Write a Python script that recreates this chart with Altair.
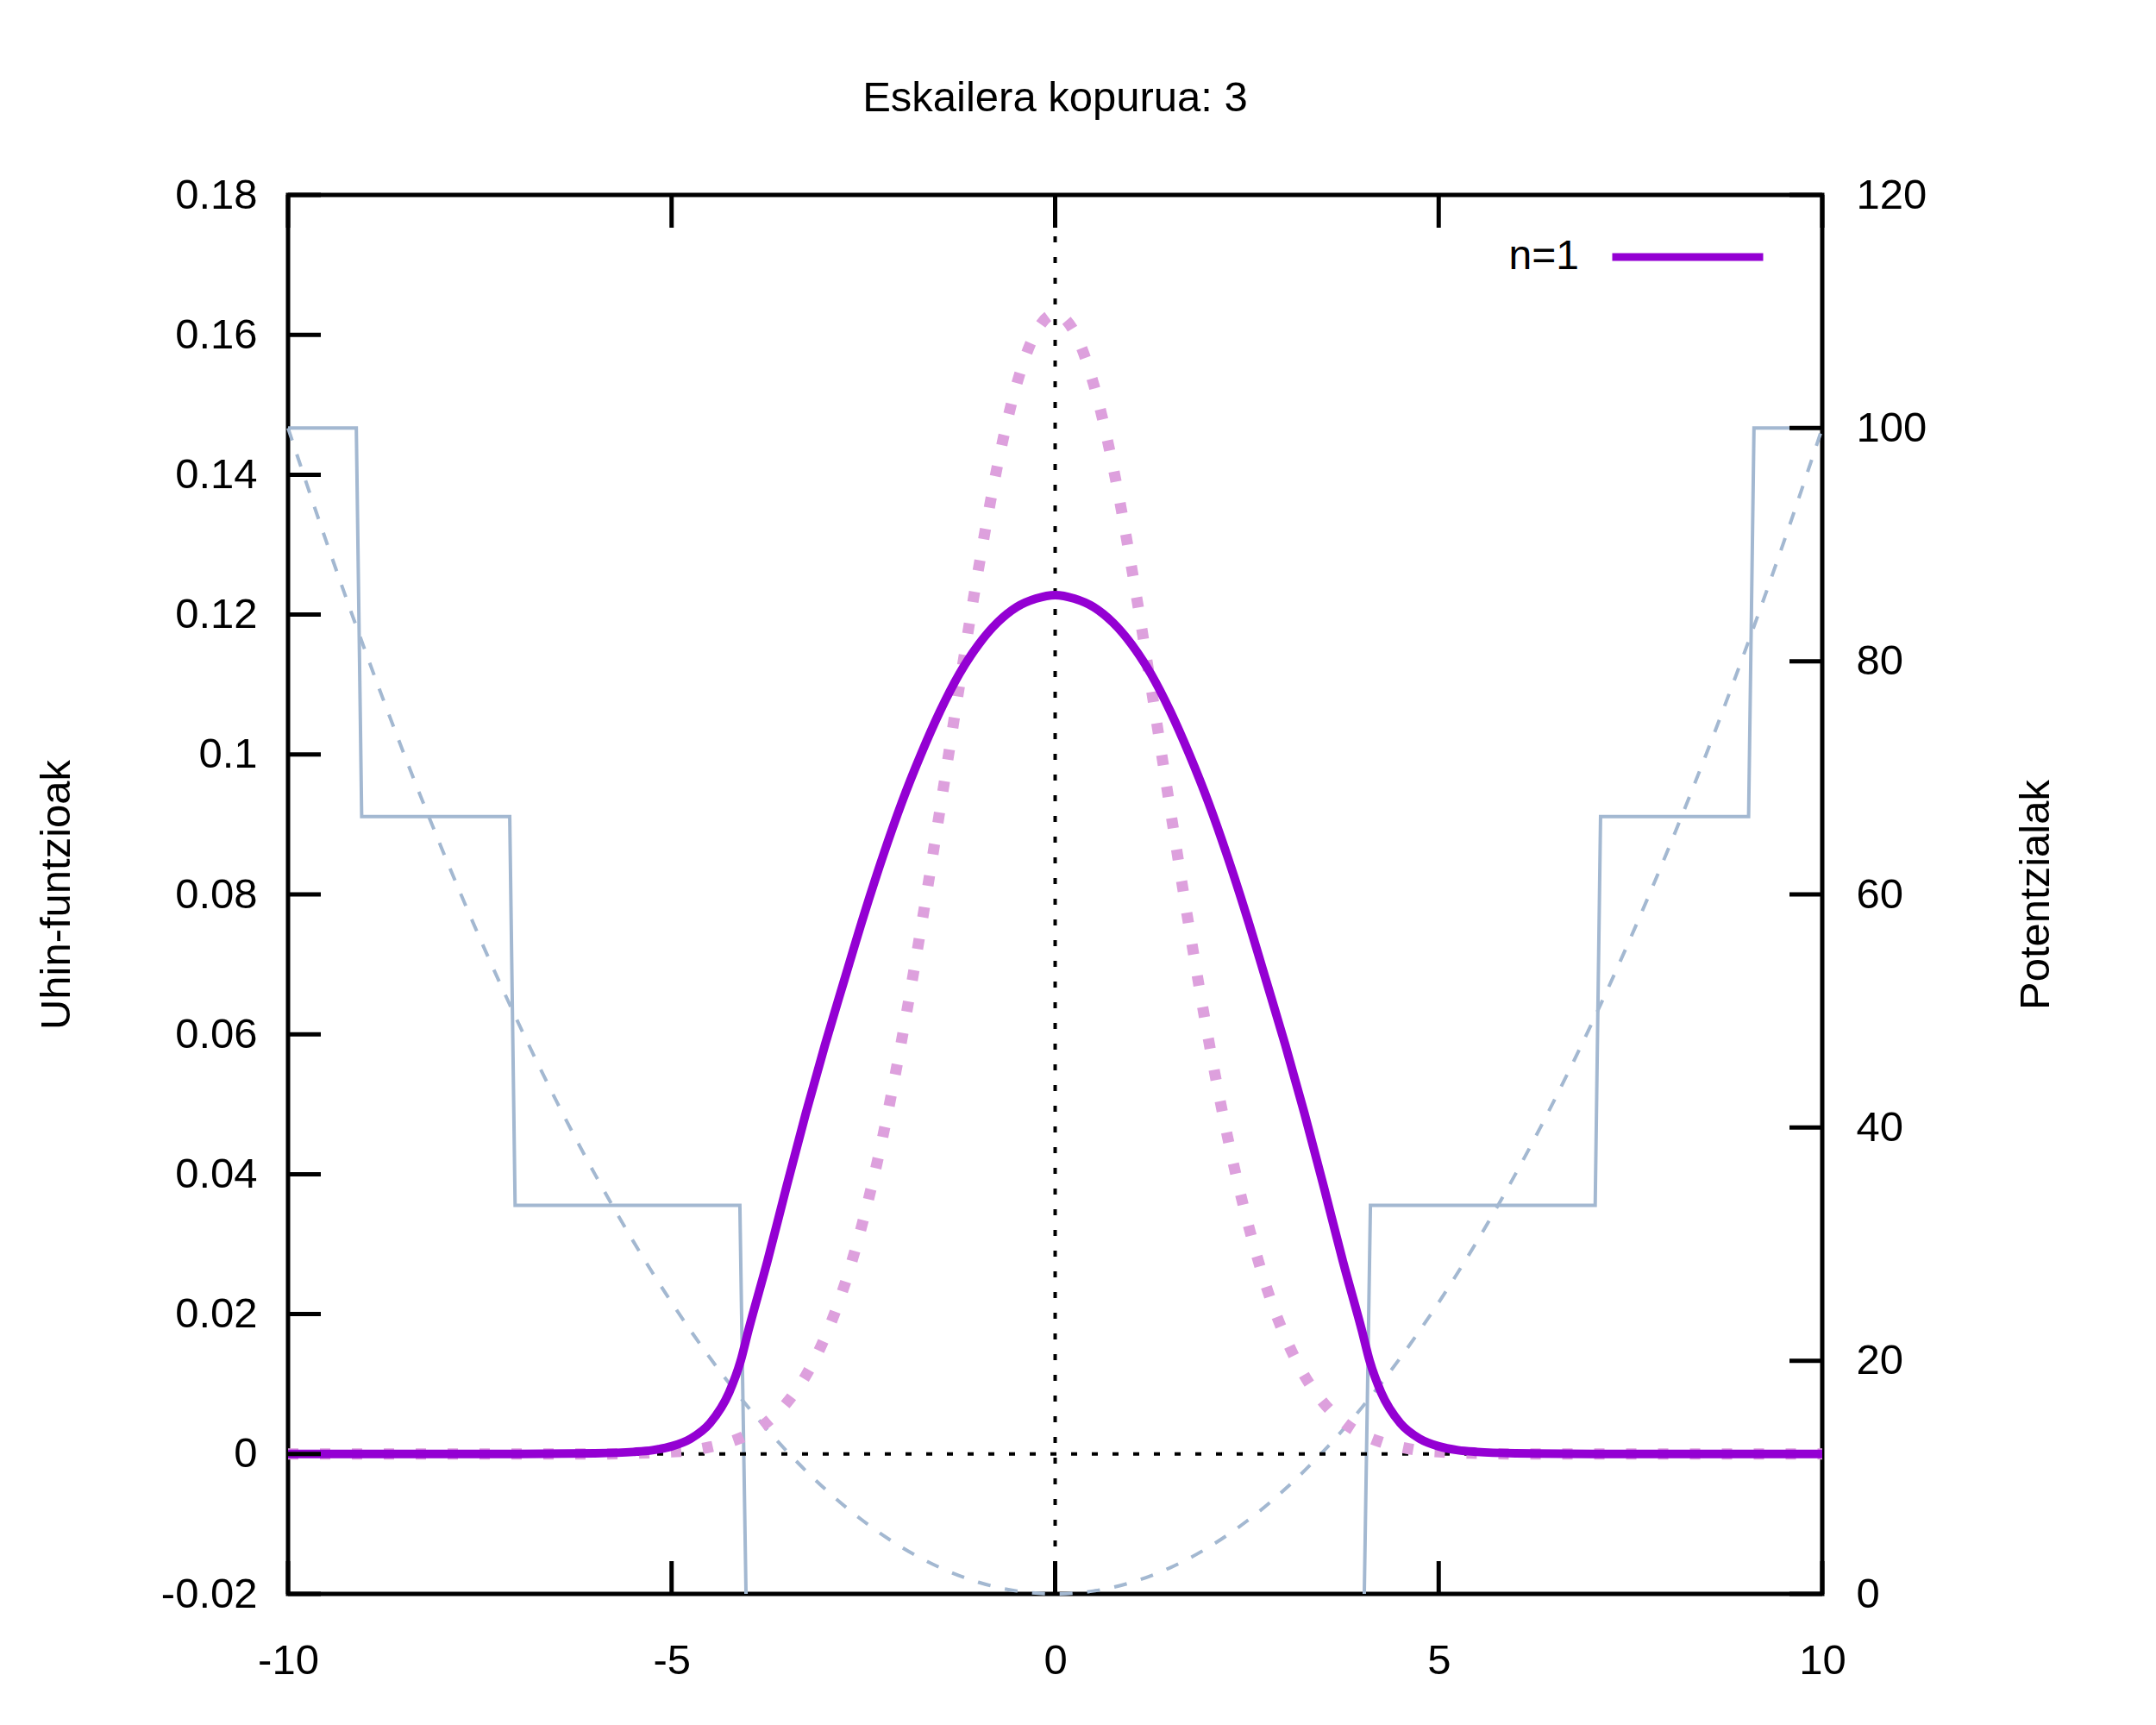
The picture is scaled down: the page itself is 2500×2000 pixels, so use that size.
import altair as alt
import pandas as pd

# ---------------- data ----------------
x_ticks = [-10, -5, 0, 5, 10]
y1_ticks = [-0.02, 0, 0.02, 0.04, 0.06, 0.08, 0.1, 0.12, 0.14, 0.16, 0.18]
y2_ticks = [0, 20, 40, 60, 80, 100, 120]

# solid purple wave function (n=1)
n1_x = [-10.0, -8.0, -7.0, -6.0, -5.5, -5.25, -5.0, -4.75, -4.5, -4.25, -4.1, -4.0,
        -3.75, -3.5, -3.25, -3.0, -2.75, -2.5, -2.25, -2.0, -1.75, -1.5, -1.25, -1.0,
        -0.75, -0.5, -0.25, 0.0, 0.25, 0.5, 0.75, 1.0, 1.25, 1.5, 1.75, 2.0, 2.25, 2.5,
        2.75, 3.0, 3.25, 3.5, 3.75, 4.0, 4.1, 4.25, 4.5, 4.75, 5.0, 5.25, 5.5, 6.0,
        7.0, 8.0, 10.0]
n1_psi = [0.0, 0.0, 0.0, 0.0001, 0.0003, 0.00055, 0.0011, 0.0022, 0.0044, 0.0088, 0.0133, 0.0176,
          0.0276, 0.0383, 0.0487, 0.0585, 0.0677, 0.0768, 0.0853, 0.0931, 0.1000, 0.1062, 0.1115, 0.1157,
          0.1189, 0.1211, 0.1223, 0.1228, 0.1223, 0.1211, 0.1189, 0.1157, 0.1115, 0.1062, 0.1000, 0.0931,
          0.0853, 0.0768, 0.0677, 0.0585, 0.0487, 0.0383, 0.0276, 0.0176, 0.0133, 0.0088, 0.0044, 0.0022,
          0.0011, 0.00055, 0.0003, 0.0001, 0.0, 0.0, 0.0]

# pink dotted comparison curve
ho_x = [-10.0, -8.0, -7.0, -6.0, -5.5, -5.0, -4.75, -4.5, -4.25, -4.0, -3.75, -3.5, -3.25,
        -3.0, -2.75, -2.5, -2.25, -2.0, -1.75, -1.5, -1.25, -1.0, -0.75, -0.5, -0.25, 0.0,
        0.25, 0.5, 0.75, 1.0, 1.25, 1.5, 1.75, 2.0, 2.25, 2.5, 2.75, 3.0, 3.25, 3.5, 3.75,
        4.0, 4.25, 4.5, 4.75, 5.0, 5.5, 6.0, 7.0, 8.0, 10.0]
ho_psi = [0.0, 0.0, 0.0, 0.0, 0.0001, 0.0003, 0.0005, 0.0010, 0.0017, 0.0028, 0.0046, 0.0073, 0.0112,
          0.0167, 0.0240, 0.0335, 0.0452, 0.0592, 0.0751, 0.0922, 0.1097, 0.1265, 0.1414, 0.1530, 0.1604,
          0.1630, 0.1604, 0.1530, 0.1414, 0.1265, 0.1097, 0.0922, 0.0751, 0.0592, 0.0452, 0.0335, 0.0240,
          0.0167, 0.0112, 0.0073, 0.0046, 0.0028, 0.0017, 0.0010, 0.0005, 0.0003, 0.0001, 0.0, 0.0, 0.0, 0.0]

# staircase potential (two pieces)
stair_left_x = [-10.0, -9.11, -9.04, -7.11, -7.04, -4.11, -4.03]
stair_left_v = [100.0, 100.0, 66.67, 66.67, 33.33, 33.33, 0.0]
stair_right_x = [4.03, 4.11, 7.04, 7.11, 9.04, 9.11, 10.0]
stair_right_v = [0.0, 33.33, 33.33, 66.67, 66.67, 100.0, 100.0]

# dashed parabolic potential
par_x = [-10, -9.5, -9, -8.5, -8, -7.5, -7, -6.5, -6, -5.5, -5, -4.5, -4, -3.5, -3, -2.5, -2,
         -1.5, -1, -0.5, 0, 0.5, 1, 1.5, 2, 2.5, 3, 3.5, 4, 4.5, 5, 5.5, 6, 6.5, 7, 7.5, 8,
         8.5, 9, 9.5, 10]
par_v = [100, 90.25, 81, 72.25, 64, 56.25, 49, 42.25, 36, 30.25, 25, 20.25, 16, 12.25, 9, 6.25, 4,
         2.25, 1, 0.25, 0, 0.25, 1, 2.25, 4, 6.25, 9, 12.25, 16, 20.25, 25, 30.25, 36, 42.25, 49, 56.25, 64,
         72.25, 81, 90.25, 100]

legend_labels = ["n=1"]

# ---------------- styling ----------------
W, H = 1779, 1622
FONT = "Liberation Sans"
FS = 49
TICK = 38
PURPLE = "#9400d3"
PINK = "#dda0dd"
BLUE = "#a3b8d1"
FRAME_W = 5

x_scale = alt.Scale(domain=[-10, 10], nice=False, zero=False)
y1_scale = alt.Scale(domain=[-0.02, 0.18], nice=False, zero=False)
y2_scale = alt.Scale(domain=[0, 120], nice=False, zero=False)
lbl = "'' + datum.value"

x_axis = alt.Axis(values=x_ticks, orient="bottom", title=None, ticks=False, tickSize=0,
                  domain=False, grid=False, labelExpr=lbl, labelFontSize=FS, labelFont=FONT,
                  labelColor="black", labelPadding=77, labelBaseline="middle",
                  labelFlush=False, labelOverlap=False)
y1_axis = alt.Axis(values=y1_ticks, orient="left", title="Uhin-funtzioak", ticks=False, tickSize=0,
                   domain=False, grid=False, labelExpr=lbl, labelFontSize=FS, labelFont=FONT,
                   labelColor="black", labelPadding=36, labelBaseline="middle", labelAlign="right",
                   labelFlush=False, labelOverlap=False,
                   titleFontSize=FS, titleFont=FONT, titleFontWeight="normal", titleColor="black",
                   titleAngle=270, titleX=-254, titleY=H / 2, titleAlign="center",
                   titleBaseline="alphabetic")
y2_axis = alt.Axis(values=y2_ticks, orient="right", title="Potentzialak", ticks=False, tickSize=0,
                   domain=False, grid=False, labelExpr=lbl, labelFontSize=FS, labelFont=FONT,
                   labelColor="black", labelPadding=39, labelBaseline="middle", labelAlign="left",
                   labelFlush=False, labelOverlap=False,
                   titleFontSize=FS, titleFont=FONT, titleFontWeight="normal", titleColor="black",
                   titleAngle=270, titleX=262, titleY=H / 2, titleAlign="center",
                   titleBaseline="alphabetic")

# ---------------- data frames ----------------
n1_df = pd.DataFrame({"x": n1_x, "psi": n1_psi, "name": legend_labels[0]})
ho_df = pd.DataFrame({"x": ho_x, "psi": ho_psi})
stair_df = pd.DataFrame({
    "x": stair_left_x + stair_right_x,
    "V": stair_left_v + stair_right_v,
    "seg": ["L"] * len(stair_left_x) + ["R"] * len(stair_right_x),
})
par_df = pd.DataFrame({"x": par_x, "V": par_v})
zero_df = pd.DataFrame({"v": [0]})
xt_df = pd.DataFrame({"t": x_ticks})
y1t_df = pd.DataFrame({"t": y1_ticks})
y2t_df = pd.DataFrame({"t": y2_ticks})


def X(field):
    return alt.X(field, scale=x_scale, axis=x_axis)


def Y1(field):
    return alt.Y(field, scale=y1_scale, axis=y1_axis)


def Y2(field):
    return alt.Y(field, scale=y2_scale, axis=y2_axis)


# ---------------- potential group (right axis) ----------------
stair = alt.Chart(stair_df).mark_line(color=BLUE, strokeWidth=4).encode(
    x=X("x:Q"), y=Y2("V:Q"), detail="seg:N", order="x:Q",
)
parab = alt.Chart(par_df).mark_line(color=BLUE, strokeWidth=4, strokeDash=[15, 17],
                                    interpolate="monotone").encode(
    x=X("x:Q"), y=Y2("V:Q"),
)
right_ticks = alt.Chart(y2t_df).mark_rule(color="black", strokeWidth=FRAME_W).encode(
    y=Y2("t:Q"), x=alt.value(W - TICK), x2=alt.value(W),
)
pot_group = alt.layer(stair, parab, right_ticks)

# ---------------- wave-function group (left axis) ----------------
zero_h = alt.Chart(zero_df).mark_rule(color="black", strokeWidth=4, strokeDash=[7, 17]).encode(
    y=Y1("v:Q"),
)
zero_v = alt.Chart(zero_df).mark_rule(color="black", strokeWidth=4, strokeDash=[7, 17]).encode(
    x=X("v:Q"),
)
ho_line = alt.Chart(ho_df).mark_line(color=PINK, strokeWidth=13, strokeDash=[12, 25],
                                     interpolate="monotone").encode(
    x=X("x:Q"), y=Y1("psi:Q"),
)
n1_line = alt.Chart(n1_df).mark_line(strokeWidth=10, interpolate="monotone").encode(
    x=X("x:Q"), y=Y1("psi:Q"),
    color=alt.Color("name:N", scale=alt.Scale(domain=legend_labels, range=[PURPLE]),
                    legend=alt.Legend(title=None, orient="none", legendX=1531, legendY=-20,
                                      symbolType="stroke", symbolSize=30625, symbolStrokeWidth=9,
                                      labelFontSize=48, labelFont=FONT, labelColor="black",
                                      labelOffset=alt.ExprRef(expr="-218"), labelAlign="right",
                                      padding=0)),
)
left_ticks = alt.Chart(y1t_df).mark_rule(color="black", strokeWidth=FRAME_W).encode(
    y=Y1("t:Q"), x=alt.value(0), x2=alt.value(TICK),
)
bottom_ticks = alt.Chart(xt_df).mark_rule(color="black", strokeWidth=FRAME_W).encode(
    x=X("t:Q"), y=alt.value(H - TICK), y2=alt.value(H),
)
top_ticks = alt.Chart(xt_df).mark_rule(color="black", strokeWidth=FRAME_W).encode(
    x=X("t:Q"), y=alt.value(0), y2=alt.value(TICK),
)
wave_group = alt.layer(zero_h, zero_v, ho_line, n1_line, left_ticks, bottom_ticks, top_ticks)

chart = alt.layer(pot_group, wave_group).resolve_scale(y="independent").properties(
    width=W, height=H,
    autosize=alt.AutoSizeParams(type="none"),
    padding={"left": 326, "top": 218, "right": 370, "bottom": 140},
    title=alt.TitleParams("Eskailera kopurua: 3", fontSize=FS, font=FONT, fontWeight="normal",
                          anchor="middle", frame="group", offset=24, baseline="alphabetic",
                          color="black"),
).configure(font=FONT).configure_view(stroke="black", strokeWidth=FRAME_W)

chart.save("out.html", embed_options={"renderer": "svg", "actions": False})
